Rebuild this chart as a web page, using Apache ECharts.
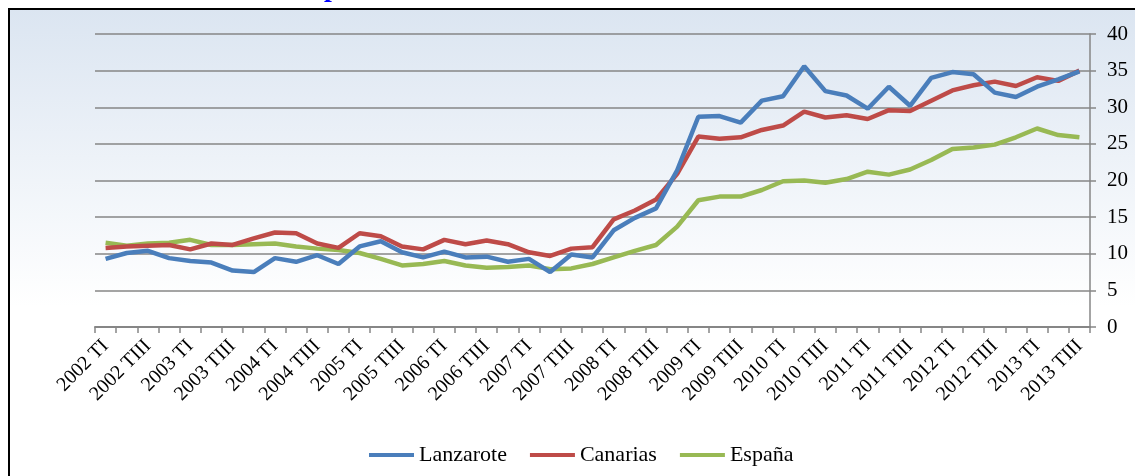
<!DOCTYPE html>
<html>
<head>
<meta charset="utf-8">
<script src="https://cdn.jsdelivr.net/npm/echarts@6/dist/echarts.min.js"></script>
<style>
html,body{margin:0;padding:0;background:#fff;}
#chart{width:1135px;height:476px;}
</style>
</head>
<body>
<div id="chart"></div>
<script>
const years = ['2002','2003','2004','2005','2006','2007','2008','2009','2010','2011','2012','2013'];
const quarters = ['TI','TII','TIII','TIV'];
const categories = [];
years.forEach(y => quarters.forEach(q => categories.push(y + ' ' + q)));
categories.splice(47);

const lanzarote = [9.3,10.1,10.4,9.4,9.0,8.8,7.7,7.5,9.4,8.9,9.8,8.6,11.0,11.7,10.2,9.5,10.3,9.5,9.6,8.9,9.3,7.5,9.9,9.5,13.2,14.9,16.2,21.4,28.7,28.8,27.9,30.9,31.5,35.6,32.2,31.6,29.8,32.8,30.2,34.0,34.8,34.5,32.0,31.4,32.8,33.8,34.9];
const canarias = [10.8,11.0,11.1,11.2,10.6,11.4,11.2,12.1,12.9,12.8,11.4,10.8,12.8,12.4,11.0,10.6,11.9,11.3,11.8,11.3,10.2,9.7,10.7,10.9,14.7,15.9,17.4,20.9,26.0,25.7,25.9,26.9,27.5,29.4,28.6,28.9,28.4,29.6,29.5,30.9,32.3,33.0,33.5,32.9,34.1,33.6,35.0];
const espana = [11.5,11.1,11.4,11.5,11.9,11.2,11.2,11.3,11.4,11.0,10.7,10.5,10.1,9.3,8.4,8.6,9.0,8.4,8.1,8.2,8.4,7.9,8.0,8.6,9.5,10.4,11.2,13.7,17.3,17.8,17.8,18.7,19.9,20.0,19.7,20.2,21.2,20.8,21.5,22.8,24.3,24.5,24.9,25.9,27.1,26.2,25.9];
const seriesNames = ['Lanzarote','Canarias','España'];
const yTicks = [0,5,10,15,20,25,30,35,40];

const colors = ['#4a7ebb','#be4b48','#98b954'];
const font = '"Liberation Serif", "Times New Roman", serif';

const chart = echarts.init(document.getElementById('chart'));
chart.setOption({
  animation: false,
  backgroundColor: '#ffffff',
  graphic: [
    {
      type: 'rect', z: -10, silent: true,
      shape: {x: 9, y: 9, width: 1140, height: 480},
      style: {
        fill: new echarts.graphic.LinearGradient(0, 0, 0, 1, [
          {offset: 0, color: '#dbe5f1'},
          {offset: 0.62, color: '#ffffff'},
          {offset: 1, color: '#ffffff'}
        ]),
        stroke: '#000000', lineWidth: 2
      }
    },
    {
      type: 'text', z: 10, silent: true,
      x: 324, y: 3,
      style: {text: 'p', font: 'bold 28px ' + font, fill: '#0000ff', verticalAlign: 'bottom'}
    }
  ],
  color: colors,
  grid: {left: 95, right: 45, top: 34, bottom: 149, containLabel: false},
  legend: {
    data: seriesNames,
    top: 439,
    left: 364,
    icon: 'rect',
    itemWidth: 45, itemHeight: 4,
    itemGap: 23,
    textStyle: {fontFamily: font, fontSize: 22, color: '#000'}
  },
  xAxis: {
    type: 'category',
    data: categories,
    boundaryGap: true,
    axisLine: {lineStyle: {color: '#868686', width: 2}},
    axisTick: {show: true, interval: 0, length: 6, lineStyle: {color: '#868686', width: 1.5}},
    axisLabel: {
      interval: 1, rotate: 45, margin: 16,
      fontFamily: font, fontSize: 20, color: '#000'
    },
    splitLine: {show: false}
  },
  yAxis: {
    type: 'value',
    position: 'right',
    min: yTicks[0], max: yTicks[yTicks.length-1], interval: 5,
    axisLine: {show: true, lineStyle: {color: '#868686', width: 1.5}},
    axisTick: {show: true, length: 6, lineStyle: {color: '#868686', width: 1.5}},
    axisLabel: {fontFamily: font, fontSize: 21, color: '#000', margin: 17},
    splitLine: {lineStyle: {color: '#868686', width: 1.5}}
  },
  series: [
    {name: seriesNames[0], type: 'line', data: lanzarote, showSymbol: false, symbol: 'none', lineStyle: {width: 4.5}, z: 3},
    {name: seriesNames[1], type: 'line', data: canarias, showSymbol: false, symbol: 'none', lineStyle: {width: 4.5}, z: 2},
    {name: seriesNames[2], type: 'line', data: espana, showSymbol: false, symbol: 'none', lineStyle: {width: 4.5}, z: 1}
  ]
});
</script>
</body>
</html>
